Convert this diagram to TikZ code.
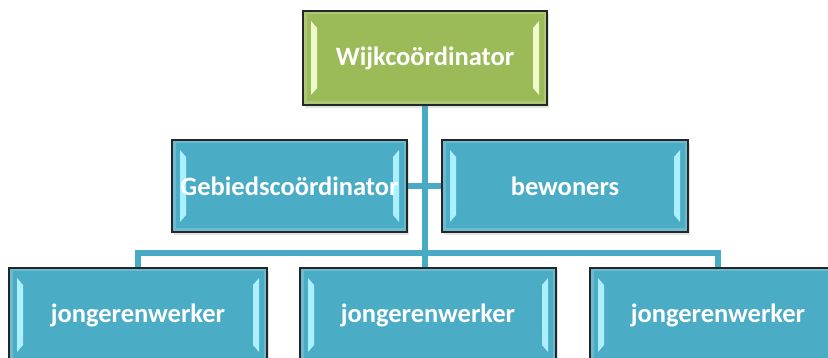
\documentclass[tikz,border=0pt]{standalone}
\usepackage{fontspec}
\setmainfont{Carlito}
\usetikzlibrary{calc,shadows,backgrounds}
\definecolor{tealfill}{HTML}{4BACC6}
\definecolor{greenfill}{HTML}{9BBB59}
\definecolor{tealstrip}{HTML}{ACF0FF}
\definecolor{greenstrip}{HTML}{EFF9CC}
\definecolor{connteal}{HTML}{49AAC4}
\tikzset{
  orgbox/.style={rectangle, draw=black!85, line width=1.4pt, inner sep=0pt,
    text=white, font=\fontsize{26.5}{30}\selectfont\bfseries,
    drop shadow={opacity=0.22, shadow xshift=2pt, shadow yshift=-3pt},
    path picture={
      \fill[#1] ($(path picture bounding box.north west)+(8pt,-10pt)$)
        -- ($(path picture bounding box.north west)+(14pt,-17pt)$)
        -- ($(path picture bounding box.south west)+(14pt,17pt)$)
        -- ($(path picture bounding box.south west)+(8pt,10pt)$) -- cycle;
      \fill[#1] ($(path picture bounding box.north east)+(-8pt,-10pt)$)
        -- ($(path picture bounding box.north east)+(-14pt,-17pt)$)
        -- ($(path picture bounding box.south east)+(-14pt,17pt)$)
        -- ($(path picture bounding box.south east)+(-8pt,10pt)$) -- cycle;
      \draw[white, opacity=0.18, line width=3pt]
        ($(path picture bounding box.north west)+(2pt,-2pt)$) rectangle
        ($(path picture bounding box.south east)+(-2pt,2pt)$);
    }},
  tealbox/.style={orgbox=tealstrip, fill=tealfill},
  greenbox/.style={orgbox=greenstrip, fill=greenfill},
  conn/.style={draw=connteal, line width=6pt},
}
\begin{document}
\begin{tikzpicture}[x=1pt,y=-1pt]
\useasboundingbox (0,0) rectangle (828,358);
\clip (0,0) rectangle (828,358);
\node[greenbox, minimum width=244pt, minimum height=94pt] (top) at (425,58) {Wijkcoördinator};
\node[tealbox, minimum width=235pt, minimum height=92pt] (g) at (289.5,186) {Gebiedscoördinator};
\node[tealbox, minimum width=246pt, minimum height=92pt] (b) at (565,186) {bewoners};
\node[tealbox, minimum width=258pt, minimum height=94pt] (l1) at (138,315) {jongerenwerker};
\node[tealbox, minimum width=256pt, minimum height=94pt] (l2) at (428,315) {jongerenwerker};
\node[tealbox, minimum width=256pt, minimum height=94pt] (l3) at (718,315) {jongerenwerker};
\coordinate (bus) at (425,253);
\begin{pgfonlayer}{background}
\fill[white] (0,0) rectangle (828,358);
\draw[conn] (top.south) -- (top.south |- l2.north);
\draw[conn] (g.east) -- (b.west);
\draw[conn] (l1.north) -- (l1.north |- bus) -- (l3.north |- bus) -- (l3.north);
\end{pgfonlayer}
\end{tikzpicture}
\end{document}
